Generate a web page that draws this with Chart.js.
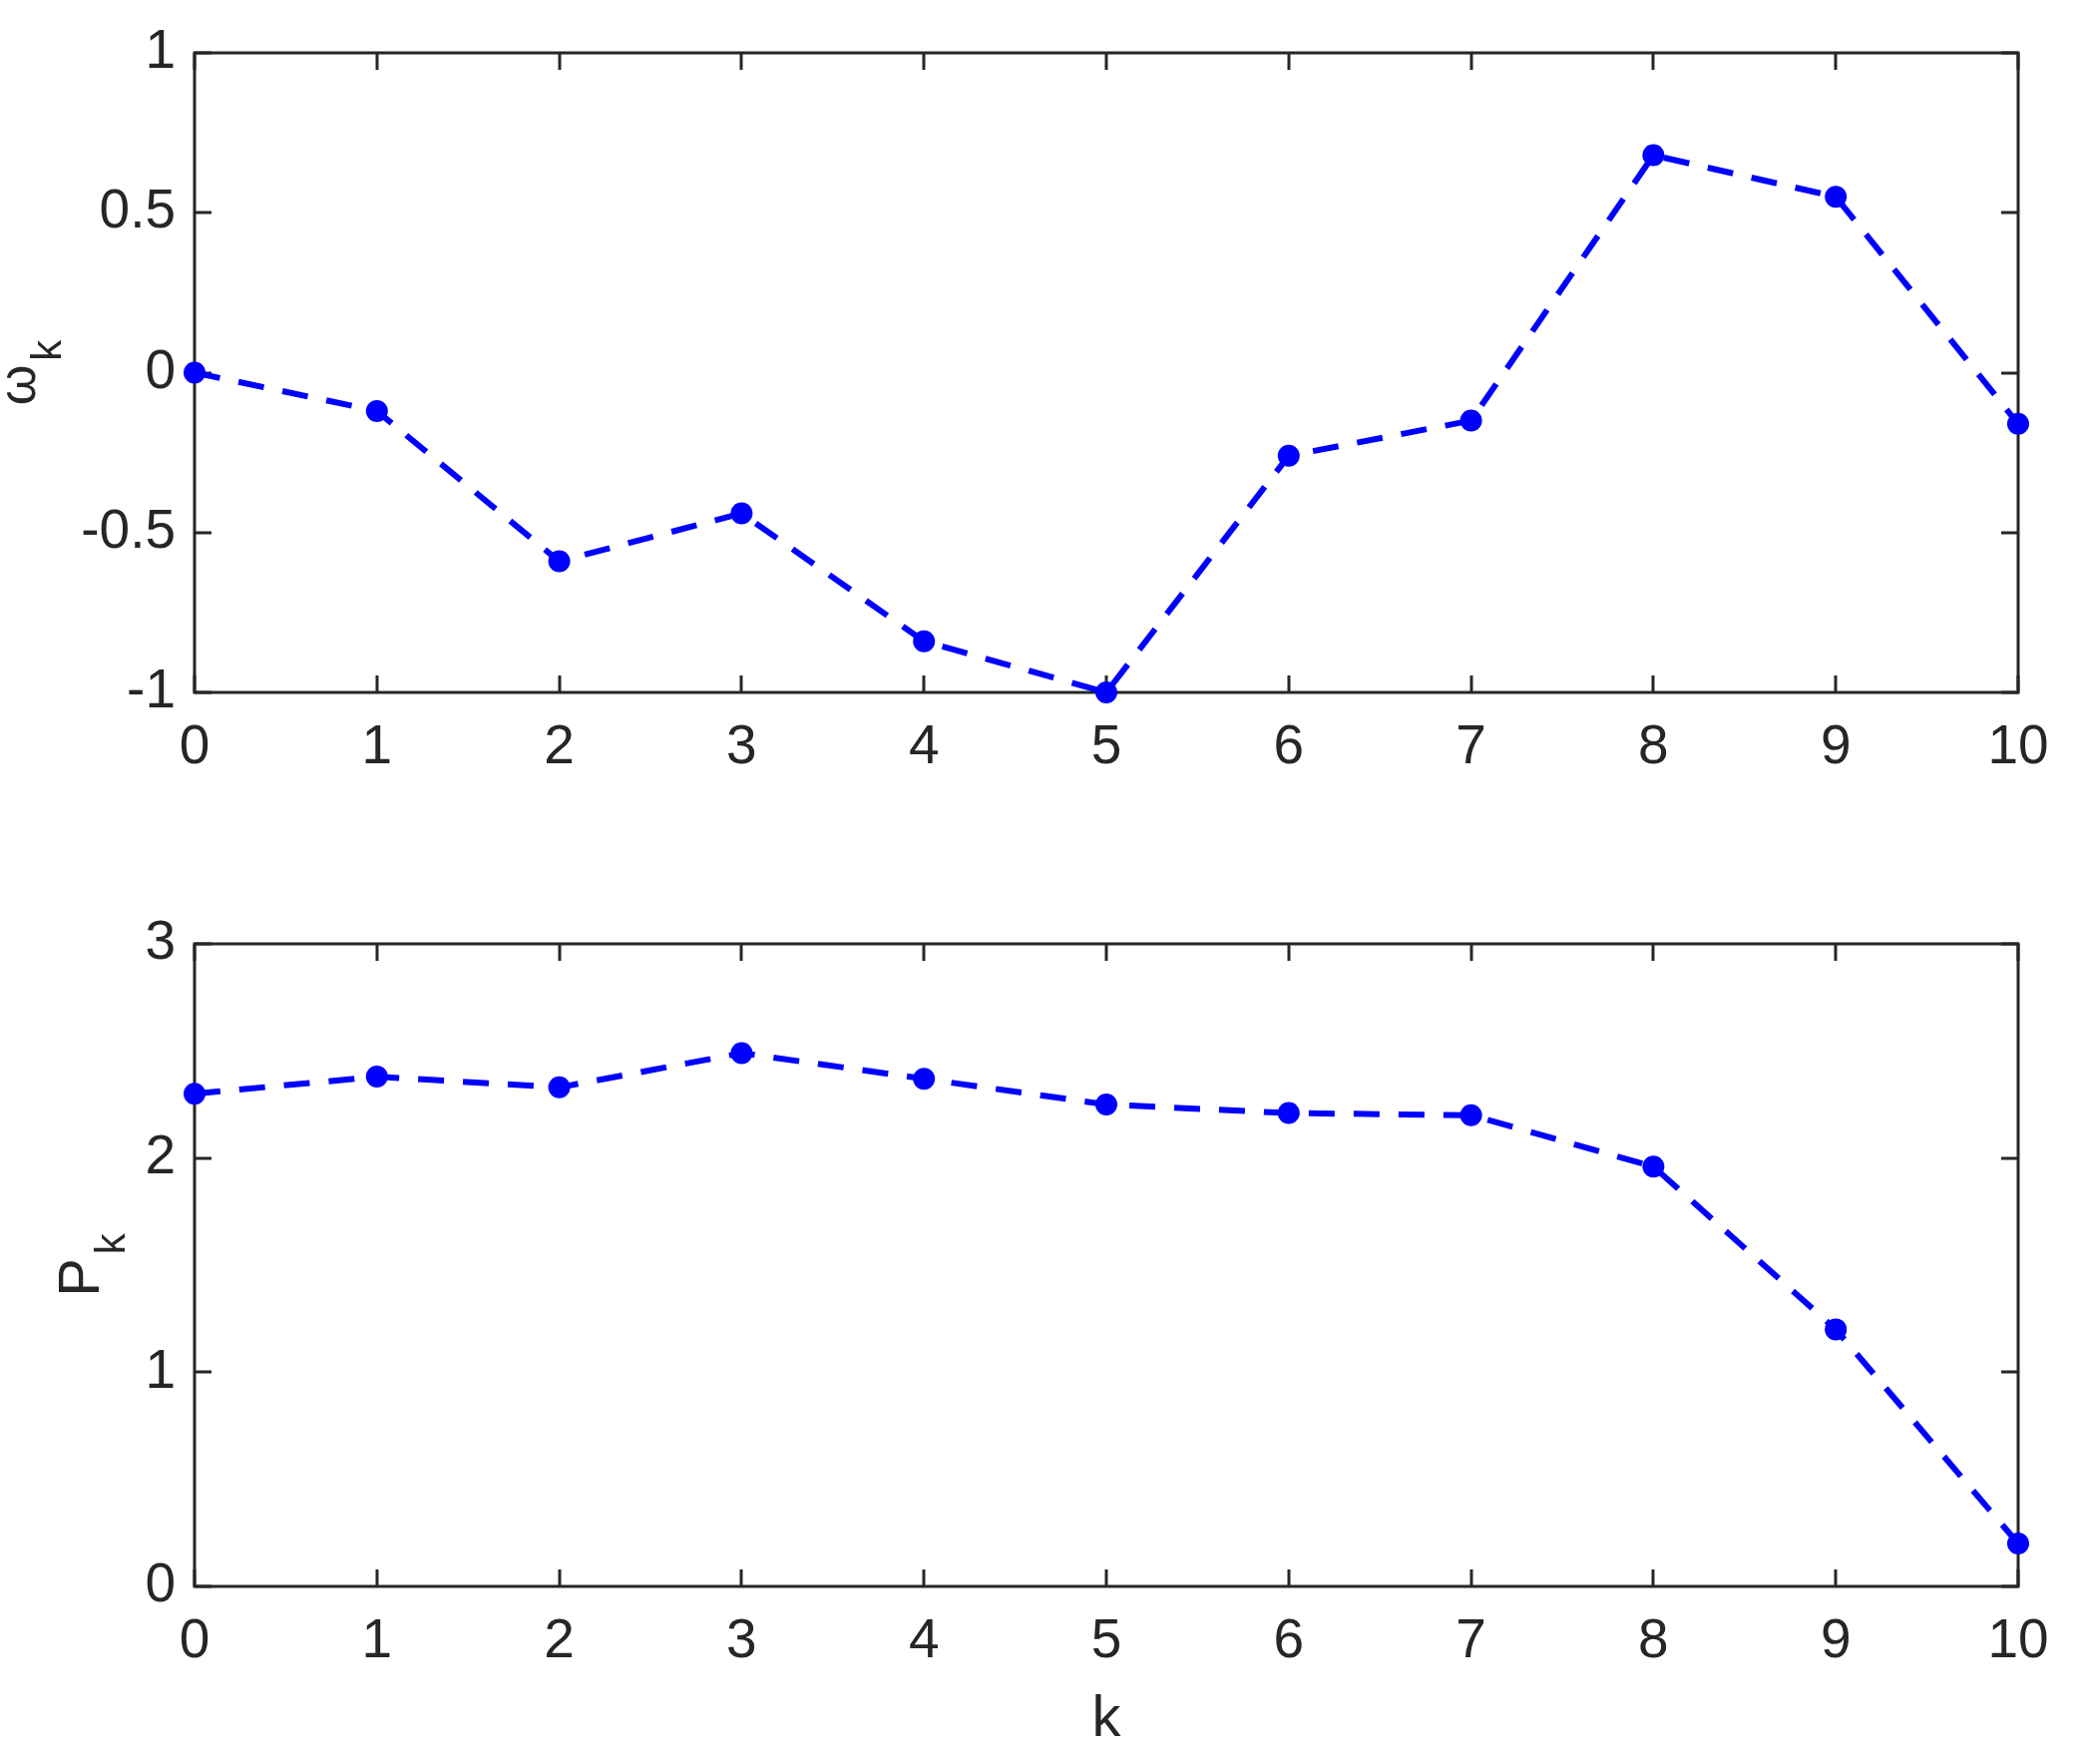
<!DOCTYPE html>
<html>
<head>
<meta charset="utf-8">
<script src="https://cdn.jsdelivr.net/npm/chart.js@4.4.1/dist/chart.umd.min.js"></script>
<style>
    html, body { margin: 0; padding: 0; background: #fff; }
    #wrap { position: relative; width: 2084px; height: 1768px; }
    canvas { position: absolute; left: 0; }
</style>
</head>
<body>
<div id="wrap">
    <canvas id="omegaChart" width="2084" height="850" style="top:0px"></canvas>
    <canvas id="powerChart" width="2084" height="918" style="top:850px"></canvas>
</div>
<script>
// Data
const kValues = [0, 1, 2, 3, 4, 5, 6, 7, 8, 9, 10];
const omegaValues = [0, -0.12, -0.59, -0.44, -0.84, -1.0, -0.26, -0.15, 0.68, 0.55, -0.16];
const powerValues = [2.30, 2.38, 2.33, 2.49, 2.37, 2.25, 2.21, 2.20, 1.96, 1.20, 0.20];
const omegaTicks = [-1, -0.5, 0, 0.5, 1];
const powerTicks = [0, 1, 2, 3];
const kTicks = [0, 1, 2, 3, 4, 5, 6, 7, 8, 9, 10];

const axisColor = '#262626';
const fontFamily = '"Liberation Sans", Arial, Helvetica, sans-serif';
const tickFont = { family: fontFamily, size: 55 };

// MATLAB style box with ticks pointing inwards
const boxPlugin = {
    id: 'box',
    beforeDatasetsDraw(chart) {
        const { ctx, chartArea: a, scales: { x, y } } = chart;
        const len = 17;
        ctx.save();
        ctx.strokeStyle = axisColor;
        ctx.lineWidth = 3;
        ctx.beginPath();
        x.ticks.forEach(t => {
            const px = Math.round(x.getPixelForValue(t.value));
            ctx.moveTo(px, a.bottom); ctx.lineTo(px, a.bottom - len);
            ctx.moveTo(px, a.top); ctx.lineTo(px, a.top + len);
        });
        y.ticks.forEach(t => {
            const py = Math.round(y.getPixelForValue(t.value));
            ctx.moveTo(a.left, py); ctx.lineTo(a.left + len, py);
            ctx.moveTo(a.right, py); ctx.lineTo(a.right - len, py);
        });
        ctx.stroke();
        ctx.strokeRect(a.left, a.top, a.right - a.left, a.bottom - a.top);
        ctx.restore();
    }
};

// y label with a subscript, rotated like the axis title
const yLabelPlugin = {
    id: 'yLabel',
    afterDraw(chart, args, opts) {
        const { ctx, chartArea: a, scales: { y } } = chart;
        ctx.save();
        ctx.font = `${tickFont.size}px ${fontFamily}`;
        const widest = Math.max(...y.ticks.map(t => ctx.measureText(t.label).width));
        const baseX = a.left - y.options.ticks.padding - widest - 46;
        const midY = (a.top + a.bottom) / 2;
        const mainFont = `${opts.size}px ${fontFamily}`;
        const subFont = `42px ${fontFamily}`;
        ctx.font = mainFont;
        const wMain = ctx.measureText(opts.main).width;
        ctx.font = subFont;
        const wSub = ctx.measureText(opts.sub).width;
        const total = wMain + 4 + wSub;
        ctx.translate(baseX, midY);
        ctx.rotate(-Math.PI / 2);
        ctx.fillStyle = axisColor;
        ctx.textBaseline = 'alphabetic';
        ctx.textAlign = 'left';
        ctx.font = mainFont;
        ctx.fillText(opts.main, -total / 2, 0);
        ctx.font = subFont;
        ctx.fillText(opts.sub, -total / 2 + wMain + 4, 26);
        ctx.restore();
    }
};

function makeChart(id, values, yTicks, padTop, xHeight, xTitle, yMain, ySub, yMainSize) {
    const ctx = document.getElementById(id).getContext('2d');
    return new Chart(ctx, {
        type: 'line',
        data: {
            datasets: [{
                data: kValues.map((k, i) => ({ x: k, y: values[i] })),
                borderColor: '#0000ff',
                backgroundColor: '#0000ff',
                borderWidth: 6,
                borderDash: [26, 19],
                pointRadius: 11,
                pointBackgroundColor: '#0000ff',
                pointBorderWidth: 0,
                tension: 0,
                clip: false
            }]
        },
        options: {
            responsive: false,
            animation: false,
            layout: { padding: { top: padTop, right: 61, left: 0, bottom: 0 } },
            plugins: {
                legend: { display: false },
                tooltip: { enabled: false },
                yLabel: { main: yMain, sub: ySub, size: yMainSize }
            },
            scales: {
                x: {
                    type: 'linear',
                    min: kTicks[0],
                    max: kTicks[kTicks.length - 1],
                    afterBuildTicks: s => { s.ticks = kTicks.map(v => ({ value: v })); },
                    afterFit: s => { s.height = xHeight; },
                    grid: { display: false, drawTicks: false },
                    border: { display: false },
                    ticks: { font: tickFont, color: axisColor, padding: 23, maxRotation: 0, autoSkip: false },
                    title: {
                        display: !!xTitle,
                        text: xTitle,
                        color: axisColor,
                        font: { family: fontFamily, size: 58 },
                        padding: { top: 0, bottom: 9 }
                    }
                },
                y: {
                    min: yTicks[0],
                    max: yTicks[yTicks.length - 1],
                    afterBuildTicks: s => { s.ticks = yTicks.map(v => ({ value: v })); },
                    afterFit: s => { s.width = 195; },
                    grid: { display: false, drawTicks: false },
                    border: { display: false },
                    ticks: { font: tickFont, color: axisColor, padding: 19, callback: v => String(v) }
                }
            }
        },
        plugins: [boxPlugin, yLabelPlugin]
    });
}

makeChart('omegaChart', omegaValues, omegaTicks, 53, 156, '', 'ω', 'k', 52);
makeChart('powerChart', powerValues, powerTicks, 96, 178, 'k', 'P', 'k', 58);
</script>
</body>
</html>
